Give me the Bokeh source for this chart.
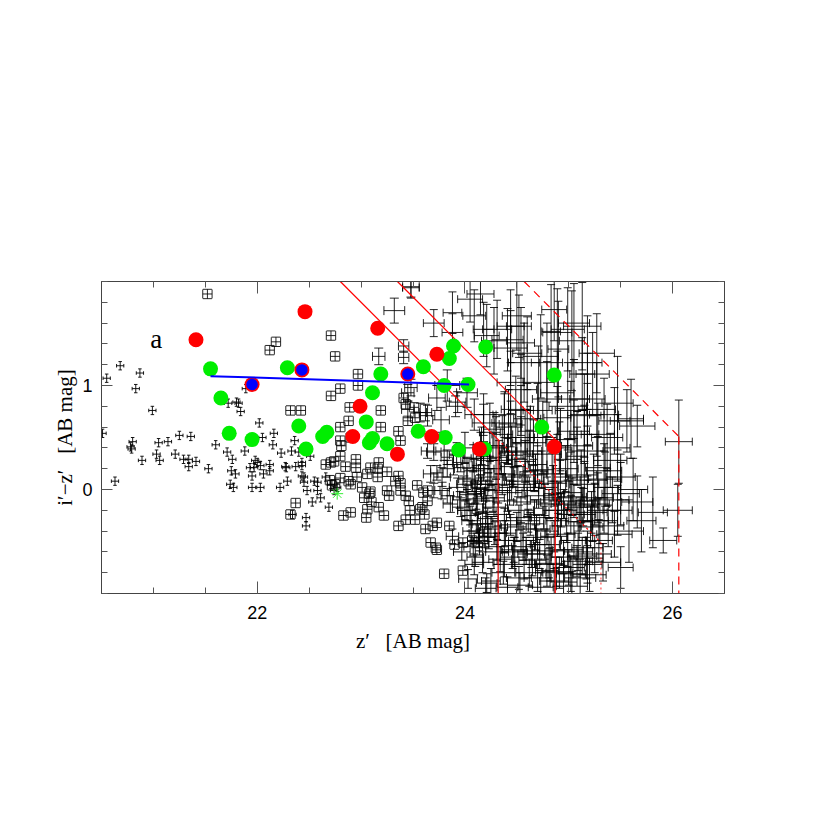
import numpy as np
from bokeh.plotting import figure
from bokeh.models import (ColumnDataSource, Whisker, TeeHead, FixedTicker,
                          LinearAxis, Range1d, Label)
from bokeh.embed import file_html
from bokeh.resources import INLINE

# ---------------- data (z' mag, i'-z' colour, errors) ----------------
# A: bright objects (tiny error bars)
zA = [20.55,20.68,20.87,20.83,20.99,20.51,20.80,20.79,20.78,20.89,
      20.63,21.05,21.14,21.25,21.36,21.03,21.06,21.21,21.29,21.34,
      21.34,21.41,21.53,21.60,21.71,21.76,21.75,21.79,21.74,21.77,
      21.72,21.80,21.82,21.84,21.88,21.89,22.02,22.05,22.16,22.15,
      22.23,22.36,22.33,22.40,22.51,21.98,22.00,21.93,21.97,22.03,
      22.06,22.12,22.12,21.95,21.95,22.03,22.22,22.27,22.28,22.37,
      22.29,22.43,22.43,22.45,22.48,22.58,22.61,22.53,22.47,22.47,
      22.34,22.55,22.58,22.66,22.71,22.77,22.74,22.69,22.45,22.43]
iA = [1.07,1.19,1.12,0.97,0.76,0.54,0.46,0.39,0.41,0.28,
      0.08,0.45,0.46,0.52,0.51,0.34,0.28,0.34,0.29,0.29,
      0.22,0.27,0.20,0.43,0.36,0.29,0.18,0.15,0.05,0.02,
      0.83,0.84,0.83,0.75,0.37,0.97,0.64,0.50,0.54,0.43,
      0.35,0.47,0.37,0.36,0.32,0.28,0.26,0.21,0.21,0.23,
      0.15,0.24,0.18,0.13,0.02,0.02,0.02,0.22,0.21,0.22,
      0.08,0.26,0.13,0.07,-0.01,-0.01,-0.08,-0.12,-0.27,-0.35,
      -0.24,0.08,0.07,0.12,0.05,0.02,-0.01,-0.17,0.12,0.23]
ezA = 0.035
eiA = 0.04

# B: intermediate objects (small boxed error bars)
zB = [21.52,22.12,22.18,22.32,22.42,22.71,22.75,22.80,22.71,22.97,
      22.97,22.89,22.88,22.80,22.80,22.90,23.19,23.19,23.36,23.38,
      23.45,23.41,23.43,23.51,23.52,22.37,22.32,22.81,22.80,22.71,
      22.66,22.74,22.85,22.95,22.95,23.17,23.16,23.09,23.06,23.16,
      23.25,22.80,22.88,22.96,22.70,22.72,22.75,22.90,23.01,23.09,
      23.08,23.03,23.10,23.25,23.27,23.38,23.33,23.36,23.38,23.43,
      23.46,23.54,23.60,23.64,23.64,23.59,22.90,22.83,23.06,23.05,
      23.17,23.22,23.36,23.43,23.52,23.47,23.57,23.61,23.62,23.69,
      23.73,23.85,23.67,23.72,23.73,23.90,23.98,24.07,24.13,23.80,
      23.98]
iB = [1.88,1.34,1.42,0.76,0.76,1.48,1.28,0.97,0.90,1.11,
      1.00,0.79,0.66,0.60,0.47,0.50,0.76,0.60,0.56,0.47,
      0.66,0.88,0.82,0.79,0.69,-0.13,-0.24,0.42,0.32,0.26,
      0.24,0.27,0.22,0.29,0.21,0.26,0.20,0.21,0.15,0.12,
      0.17,0.11,0.08,0.12,0.09,0.04,0.05,0.05,0.02,-0.02,
      -0.04,-0.08,-0.12,-0.01,-0.06,-0.01,0.08,0.13,0.06,-0.06,
      -0.11,0.04,-0.03,-0.01,-0.11,-0.17,-0.22,-0.25,-0.19,-0.27,
      -0.17,-0.25,-0.35,-0.29,-0.29,-0.20,-0.19,-0.24,-0.38,-0.35,
      -0.32,-0.35,-0.51,-0.56,-0.58,-0.53,-0.51,-0.49,-0.51,-0.81,
      -0.78]
ezB = 0.045
eiB = 0.045

# C: fainter objects near z' ~ 23.2-24.3
zC = [23.17,23.32,23.48,23.41,23.41,23.48,23.73,23.83,23.93,23.62,
      23.64,23.70,23.80,23.83,23.67,23.73,23.78,23.83,23.89,23.96,
      24.02,24.09,24.15,24.22,23.70,23.78,23.83,23.93,23.99,24.07,
      24.15,24.22,23.86,23.96,24.02,24.12,24.20,24.06,24.17,24.22,
      23.91,23.77,23.64,23.57,23.45,23.45,24.02,24.09,24.18,24.28]
iC = [1.28,1.72,1.95,1.38,1.27,0.98,0.88,1.00,0.84,0.74,
      0.37,0.36,0.37,0.31,0.15,0.16,0.12,0.20,0.24,0.26,
      0.21,0.18,0.23,0.28,-0.01,-0.01,-0.06,0.02,0.05,0.08,
      0.02,0.05,-0.14,-0.17,-0.20,-0.14,-0.22,-0.30,-0.33,-0.38,
      0.80,0.67,0.71,0.74,0.93,0.77,0.93,0.72,0.64,0.58]
ezC = [0.06,0.10,0.08,0.05,0.05,0.06,0.08,0.12,0.08,0.06,
       0.06,0.07,0.08,0.06,0.07,0.06,0.08,0.07,0.09,0.08,
       0.09,0.10,0.08,0.11,0.06,0.07,0.06,0.08,0.07,0.09,
       0.08,0.10,0.07,0.08,0.09,0.08,0.10,0.09,0.10,0.11,
       0.09,0.08,0.07,0.06,0.06,0.06,0.10,0.09,0.11,0.10]
eiC = [0.08,0.12,0.10,0.06,0.06,0.08,0.12,0.15,0.10,0.08,
       0.07,0.08,0.09,0.07,0.08,0.07,0.09,0.08,0.10,0.09,
       0.10,0.11,0.09,0.12,0.07,0.08,0.07,0.09,0.08,0.10,
       0.09,0.11,0.08,0.09,0.10,0.09,0.11,0.10,0.12,0.12,
       0.10,0.12,0.10,0.09,0.08,0.08,0.14,0.15,0.18,0.16]

# D: faint red objects (large colour errors)
zD = [23.48,23.70,23.88,23.88,24.05,24.09,24.15,24.18,24.21,24.31,
      24.28,24.41,24.44,24.50,24.52,24.44,24.54,24.57,24.60,24.73,
      24.79,24.86,24.89,24.99,25.05,25.13,25.18,25.23,25.27,24.71,
      24.79,24.89,24.99,25.05,25.18,25.15,25.27,24.44,24.54,24.49,
      24.38,24.83,25.03,24.90,25.13,25.47,25.60,25.66,26.06,25.56,
      25.44,25.34,25.18,25.02,24.89,24.70,24.54,24.38,25.05,25.15,
      25.28,25.37,24.18,24.36,24.44,24.54,24.63]
iD = [1.94,1.60,1.70,1.51,1.83,1.67,1.88,1.54,1.48,1.54,
      1.43,1.44,1.57,1.67,1.57,1.36,1.41,1.22,1.31,1.28,
      1.22,1.73,1.51,1.54,1.60,1.57,1.22,1.11,1.31,1.03,
      0.87,0.93,0.80,0.87,0.87,0.71,0.77,1.03,0.96,0.77,
      0.64,1.52,1.43,1.35,1.11,0.83,0.68,0.61,0.46,0.66,
      0.66,0.72,0.72,0.76,0.69,0.76,0.76,0.72,0.56,0.53,
      0.53,0.50,0.72,0.53,0.63,0.50,0.56]
ezD = [0.08,0.10,0.09,0.10,0.12,0.11,0.13,0.10,0.12,0.14,
       0.12,0.15,0.13,0.14,0.12,0.16,0.13,0.15,0.14,0.17,
       0.15,0.12,0.14,0.16,0.15,0.18,0.14,0.16,0.17,0.15,
       0.14,0.16,0.18,0.15,0.17,0.16,0.18,0.13,0.15,0.14,
       0.12,0.09,0.12,0.10,0.12,0.15,0.12,0.17,0.13,0.16,
       0.15,0.14,0.16,0.15,0.13,0.14,0.12,0.11,0.15,0.14,
       0.16,0.15,0.12,0.10,0.11,0.13,0.12]
eiD = [0.10,0.13,0.20,0.18,0.22,0.25,0.20,0.26,0.30,0.28,
       0.32,0.30,0.35,0.33,0.30,0.36,0.34,0.38,0.35,0.40,
       0.38,0.30,0.42,0.40,0.38,0.42,0.45,0.40,0.38,0.35,
       0.36,0.40,0.42,0.38,0.44,0.40,0.45,0.30,0.34,0.32,
       0.28,0.45,0.48,0.46,0.35,0.45,0.38,0.20,0.40,0.30,
       0.32,0.35,0.30,0.28,0.30,0.26,0.24,0.22,0.30,0.28,
       0.30,0.32,0.20,0.18,0.22,0.20,0.24]

# E: faint objects in the dense region
zE = [24.41,24.50,24.62,24.70,24.79,24.91,24.99,25.08,25.18,25.28,
      25.40,25.47,25.50,25.37,25.28,25.18,25.05,24.95,24.86,24.76,
      24.67,24.57,24.47,24.38,24.25,24.15,24.09,24.18,24.28,24.41,
      24.54,24.67,24.76,24.89,25.02,25.11,25.21,25.34,25.47,24.12,
      24.25,24.38,24.50,24.63,24.79,24.92,25.05,25.18,25.29,25.44,
      24.14,24.38,24.54,24.70,24.83,24.95,25.08,25.18,24.38,24.57,
      24.79,25.02,24.25,24.41,24.73,24.95,25.11,24.10,25.50,25.02,
      25.15,24.92,25.34]
iE = [0.37,0.29,0.37,0.24,0.34,0.40,0.29,0.32,0.37,0.21,
      0.28,0.40,0.12,0.02,-0.08,-0.11,-0.11,-0.14,-0.04,0.02,
      0.08,0.05,0.12,0.15,0.12,0.05,-0.04,-0.11,-0.17,-0.11,
      -0.20,-0.24,-0.27,-0.30,-0.24,-0.24,-0.36,-0.20,-0.20,-0.33,
      -0.36,-0.30,-0.36,-0.33,-0.40,-0.43,-0.49,-0.56,-0.49,-0.43,
      -0.49,-0.49,-0.49,-0.53,-0.59,-0.65,-0.69,-0.72,-0.72,-0.72,
      -0.78,-0.81,-0.88,-0.94,-0.94,-0.89,-0.85,-0.65,-0.04,0.12,
      0.05,0.08,0.18]
ezE = [0.08,0.10,0.12,0.09,0.14,0.11,0.13,0.10,0.15,0.12,
       0.16,0.12,0.14,0.13,0.15,0.11,0.17,0.12,0.10,0.13,
       0.09,0.11,0.08,0.10,0.12,0.09,0.07,0.10,0.11,0.09,
       0.12,0.10,0.14,0.11,0.13,0.15,0.12,0.16,0.14,0.08,
       0.10,0.12,0.09,0.13,0.11,0.14,0.12,0.15,0.13,0.17,
       0.08,0.10,0.12,0.11,0.13,0.12,0.15,0.14,0.10,0.12,
       0.11,0.14,0.09,0.10,0.12,0.13,0.15,0.08,0.18,0.16,
       0.14,0.12,0.17]
eiE = [0.12,0.15,0.20,0.18,0.22,0.25,0.20,0.28,0.24,0.30,
       0.26,0.32,0.22,0.18,0.24,0.20,0.16,0.14,0.12,0.15,
       0.10,0.12,0.09,0.11,0.08,0.09,0.10,0.12,0.09,0.10,
       0.12,0.14,0.11,0.15,0.18,0.16,0.20,0.22,0.24,0.09,
       0.10,0.12,0.14,0.11,0.13,0.15,0.18,0.16,0.20,0.22,
       0.10,0.12,0.11,0.14,0.13,0.16,0.15,0.18,0.12,0.14,
       0.15,0.17,0.12,0.10,0.14,0.16,0.18,0.09,0.30,0.24,
       0.22,0.20,0.26]

# F: more faint objects in the dense region
zF = [23.92,24.00,24.08,24.16,24.24,24.33,24.46,24.58,24.66,24.74,
      24.84,24.97,25.12,25.24,25.35,23.95,24.03,24.11,24.20,24.30,
      24.36,24.45,24.60,24.71,24.81,24.90,25.00,25.14,25.25,25.42,
      23.88,24.05,24.13,24.22,24.32,24.44,24.52,24.61,24.69,24.87,
      24.98,25.10,25.23,23.97,24.08,24.19,24.29,24.47,24.59,24.68,
      24.77,24.86,24.99,25.13,24.03,24.17,24.31,24.46,24.62,24.81,
      24.20,24.34,24.52,24.64,24.88,25.25,25.38,24.49,24.66,24.27]
iF = [0.33,0.40,0.30,0.42,0.20,0.31,0.22,0.27,0.14,0.19,
      0.15,0.20,0.14,0.09,0.10,-0.10,-0.05,-0.09,0.00,-0.01,
      0.05,0.02,-0.01,-0.06,-0.14,-0.08,-0.03,-0.17,-0.14,-0.10,
      -0.45,-0.25,-0.42,-0.28,-0.24,-0.34,-0.27,-0.30,-0.38,-0.20,
      -0.35,-0.31,-0.30,-0.60,-0.55,-0.46,-0.42,-0.58,-0.59,-0.46,
      -0.53,-0.45,-0.58,-0.64,-0.86,-0.70,-0.60,-0.65,-0.80,-0.71,
      -0.95,-0.67,-0.85,-0.62,-0.79,-0.62,-0.35,0.36,0.45,0.42]
ezF = [0.07,0.09,0.10,0.08,0.11,0.09,0.12,0.10,0.13,0.11,
       0.14,0.12,0.15,0.13,0.16,0.07,0.08,0.10,0.09,0.11,
       0.10,0.12,0.11,0.13,0.12,0.14,0.13,0.15,0.14,0.16,
       0.06,0.08,0.09,0.10,0.11,0.10,0.12,0.11,0.13,0.12,
       0.14,0.13,0.15,0.08,0.09,0.10,0.11,0.12,0.13,0.12,
       0.14,0.13,0.15,0.14,0.09,0.10,0.11,0.12,0.13,0.14,
       0.10,0.11,0.12,0.13,0.14,0.16,0.15,0.11,0.12,0.10]
eiF = [0.12,0.15,0.13,0.18,0.12,0.16,0.14,0.20,0.15,0.18,
       0.20,0.22,0.24,0.25,0.26,0.08,0.09,0.10,0.09,0.11,
       0.10,0.12,0.13,0.12,0.14,0.15,0.16,0.18,0.20,0.22,
       0.07,0.09,0.08,0.10,0.11,0.10,0.12,0.11,0.13,0.15,
       0.16,0.18,0.20,0.08,0.09,0.10,0.11,0.12,0.13,0.12,
       0.14,0.15,0.16,0.18,0.09,0.10,0.12,0.11,0.13,0.14,
       0.10,0.12,0.11,0.13,0.14,0.18,0.20,0.14,0.22,0.12]

# H: still more faint objects filling the dense region
zH = [24.02,24.10,24.18,24.27,24.35,24.43,24.51,24.60,24.68,24.77,
      24.85,24.93,25.03,25.12,25.22,25.30,24.06,24.14,24.23,24.31,
      24.39,24.48,24.56,24.65,24.72,24.82,24.91,25.00,25.09,25.17,
      24.00,24.09,24.21,24.37,24.53,24.70,24.86,25.03,25.20,25.33,
      24.15,24.30,24.45,24.58,24.75,24.92,25.08,24.24,24.42,24.60]
iH = [0.10,-0.02,0.20,-0.08,0.28,-0.03,0.08,-0.12,0.18,-0.10,
      0.06,-0.20,-0.07,-0.15,-0.22,-0.30,-0.40,-0.52,-0.45,-0.55,
      -0.42,-0.60,-0.55,-0.68,-0.62,-0.72,-0.80,-0.75,-0.60,-0.66,
      -0.20,-0.72,-0.90,-0.80,-0.92,-0.85,-0.88,-0.93,-0.82,-0.70,
      0.30,0.40,0.33,0.45,0.50,0.48,0.42,0.55,0.60,0.68]
ezH = [0.08,0.09,0.10,0.11,0.10,0.12,0.11,0.13,0.12,0.14,
       0.13,0.15,0.14,0.16,0.15,0.17,0.08,0.09,0.10,0.11,
       0.10,0.12,0.11,0.13,0.12,0.14,0.13,0.15,0.14,0.16,
       0.07,0.09,0.10,0.11,0.12,0.13,0.14,0.15,0.16,0.17,
       0.09,0.10,0.11,0.12,0.13,0.14,0.15,0.10,0.12,0.13]
eiH = [0.10,0.11,0.12,0.13,0.14,0.12,0.15,0.14,0.16,0.15,
       0.17,0.16,0.18,0.17,0.20,0.22,0.10,0.11,0.12,0.13,
       0.12,0.14,0.13,0.15,0.14,0.16,0.15,0.17,0.18,0.20,
       0.09,0.10,0.09,0.11,0.12,0.13,0.12,0.14,0.16,0.18,
       0.25,0.30,0.28,0.32,0.35,0.30,0.33,0.28,0.36,0.34]

# G: faintest objects at the right
zG = [26.05,25.81,25.91,25.66,25.50,25.58,25.70,25.62]
iG = [-0.20,-0.22,-0.49,-0.12,-0.75,-0.40,-0.30,0.00]
ezG = [0.14,0.14,0.13,0.15,0.12,0.14,0.14,0.14]
eiG = [0.25,0.34,0.12,0.25,0.20,0.30,0.30,0.30]

# coloured candidates
green_z = [21.55,22.29,21.65,21.73,21.95,22.40,22.47,22.63,22.67,23.11,
           23.19,23.05,23.08,23.11,23.89,23.85,24.20,23.60,23.80,24.03,
           24.86,24.74,23.55,23.81,23.25,23.94,24.19]
green_iz = [1.16,1.17,0.88,0.54,0.48,0.61,0.39,0.51,0.55,0.93,
            1.11,0.65,0.45,0.49,1.38,1.26,1.37,1.18,1.00,1.01,
            1.10,0.60,0.56,0.50,0.44,0.38,0.39]
red_z = [21.41,22.46,23.16,23.73,22.99,22.92,23.35,23.68,24.14,24.86]
red_iz = [1.44,1.71,1.55,1.30,0.80,0.51,0.34,0.51,0.39,0.41]
ring_z = [21.95,22.43,23.45]
ring_iz = [1.01,1.15,1.11]
star_z = [22.77]
star_iz = [-0.04]
fit_z = [21.55, 24.04]
fit_iz = [1.09, 1.01]

# detection limits: i' limits (diagonals) and z' limits (verticals)
i_lims = [24.80, 25.35, 26.57]
z_lims = [24.32, 24.87, 26.06]
z_lim_extra = 25.31

X_RANGE = (20.5, 26.5)
Y_RANGE = (-1.0, 2.0)

# ---------------- figure ----------------
p = figure(width=800, height=800, x_range=Range1d(*X_RANGE), y_range=Range1d(*Y_RANGE),
           output_backend="svg", toolbar_location=None,
           min_border_left=101, min_border_right=76, min_border_top=281, min_border_bottom=207)
p.xgrid.visible = False
p.ygrid.visible = False
p.background_fill_color = "white"
p.border_fill_color = "white"
p.outline_line_color = "#444444"

xt = FixedTicker(ticks=[22, 24, 26], minor_ticks=[20.5 + 0.5 * k for k in range(13)])
yt = FixedTicker(ticks=[0, 1], minor_ticks=[round(-1 + 0.2 * k, 2) for k in range(16)])

def style_axis(ax, ticker, labels=True, major_len=12):
    ax.ticker = ticker
    ax.axis_line_color = "#444444"
    ax.major_tick_line_color = "#555555"
    ax.minor_tick_line_color = "#555555"
    ax.major_tick_in = major_len
    ax.major_tick_out = 0
    ax.minor_tick_in = 6
    ax.minor_tick_out = 0
    ax.major_label_text_font = "Liberation Sans"
    ax.major_label_text_font_size = "18px"
    ax.major_label_text_color = "black" if labels else None

style_axis(p.xaxis[0], xt)
style_axis(p.yaxis[0], yt, major_len=11)
p.xaxis.major_label_standoff = 12
p.yaxis.major_label_standoff = 9
NB = "\u00a0"
p.xaxis.axis_label = "z\u2032" + NB * 3 + "[AB" + NB + "mag]"
p.yaxis.axis_label = "i\u2032\u2212z\u2032" + NB * 3 + "[AB" + NB + "mag]"
for ax in (p.xaxis[0], p.yaxis[0]):
    ax.axis_label_text_font = "Liberation Serif"
    ax.axis_label_text_font_size = "21px"
    ax.axis_label_text_font_style = "normal"
    ax.axis_label_text_color = "black"
p.xaxis.axis_label_standoff = 7
p.yaxis.axis_label_standoff = 2

top_ax = LinearAxis()
style_axis(top_ax, xt, labels=False)
p.add_layout(top_ax, "above")
right_ax = LinearAxis()
style_axis(right_ax, yt, labels=False, major_len=11)
p.add_layout(right_ax, "right")

# ---------------- error bars ----------------
def add_errbars(z, iz, ez, eiz, cap, alpha=0.85):
    z = np.asarray(z, float)
    iz = np.asarray(iz, float)
    ez = np.broadcast_to(np.asarray(ez, float), z.shape)
    eiz = np.broadcast_to(np.asarray(eiz, float), z.shape)
    src = ColumnDataSource(dict(x=z, y=iz, xl=z - ez, xu=z + ez, yl=iz - eiz, yu=iz + eiz))
    kw = dict(line_color="black", line_width=1, line_alpha=alpha)
    p.add_layout(Whisker(source=src, base="y", lower="xl", upper="xu", dimension="width",
                         upper_head=TeeHead(size=cap, **kw), lower_head=TeeHead(size=cap, **kw), **kw))
    p.add_layout(Whisker(source=src, base="x", lower="yl", upper="yu", dimension="height",
                         upper_head=TeeHead(size=cap, **kw), lower_head=TeeHead(size=cap, **kw), **kw))

add_errbars(zA, iA, ezA, eiA, 3.5, 0.9)
add_errbars(zB, iB, ezB, eiB, 9)
add_errbars(zC, iC, ezC, eiC, 9)
add_errbars(zD, iD, ezD, eiD, 8)
add_errbars(zE, iE, ezE, eiE, 8, 0.9)
add_errbars(zF, iF, ezF, eiF, 8, 0.9)
add_errbars(zH, iH, ezH, eiH, 8, 0.9)
add_errbars(zG, iG, ezG, eiG, 8)

# ---------------- limit lines ----------------
styles = ["solid", "solid", "8 6"]
for L, zl, dash in zip(i_lims, z_lims, styles):
    p.line([L - Y_RANGE[1], zl], [Y_RANGE[1], L - zl], line_color="red", line_width=1.2, line_dash=dash)
    p.line([zl, zl], [L - zl, Y_RANGE[0]], line_color="#dd0000" if zl < 24.5 else "red",
           line_width=1.2, line_dash=dash)
# dotted continuation of the first limit
p.line([z_lims[0], z_lim_extra], [i_lims[0] - z_lims[0], i_lims[0] - z_lim_extra],
       line_color="red", line_width=1.2, line_dash="2 3")
p.line([z_lim_extra, z_lim_extra], [i_lims[0] - z_lim_extra, Y_RANGE[0]],
       line_color="red", line_width=1.2, line_dash="2 3", line_alpha=0.7)

# ---------------- candidates ----------------
p.scatter(star_z, star_iz, marker="asterisk", size=12, line_color="#33ee33", line_width=1)
p.scatter(green_z, green_iz, size=15, fill_color="#00ee00", line_color=None)
p.scatter(red_z, red_iz, size=15, fill_color="#ff0000", line_color=None)
p.scatter(ring_z, ring_iz, size=15, fill_color="#ff0000", line_color=None)
p.scatter(ring_z, ring_iz, size=11.5, fill_color="#0000ff", line_color=None)
p.line(fit_z, fit_iz, line_color="#0000ff", line_width=2)

p.add_layout(Label(x=20.97, y=1.445, text="a", text_font="Liberation Serif",
                   text_font_size="27px", text_color="black", text_baseline="alphabetic"))

open("out.html", "w").write(file_html(p, INLINE))
